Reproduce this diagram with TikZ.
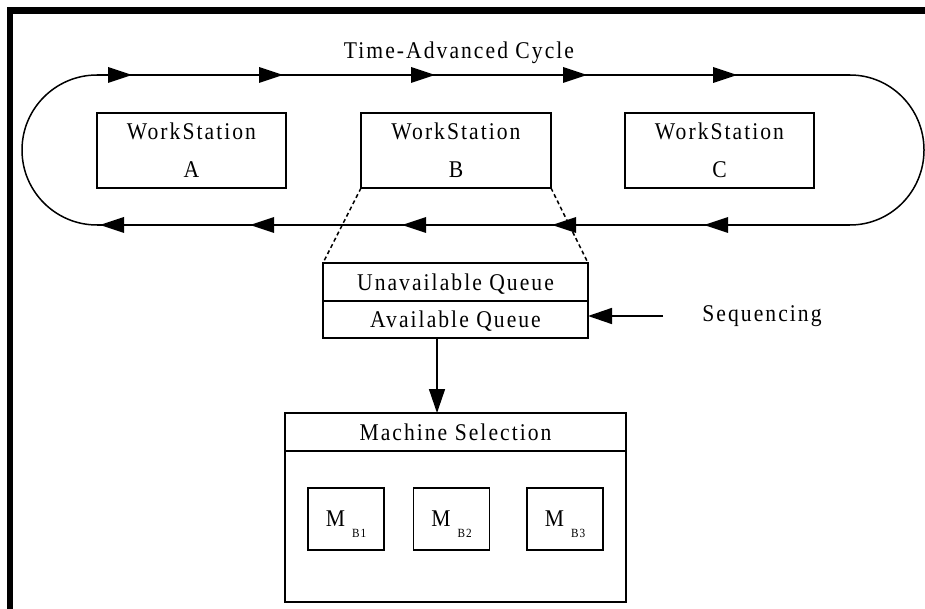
\documentclass[tikz,border=0pt]{standalone}
\usepackage{fontspec}
\setmainfont{Liberation Serif}[FakeStretch=0.9,LetterSpace=8.5]
\usetikzlibrary{arrows.meta,decorations.markings}

% filled arrowhead used on the cycle lines, tip at the mark
\newcommand\cycletip{\fill (0pt,0pt) -- (-24pt,8pt) -- (-24pt,-8pt) -- cycle;}

\begin{document}
\begin{tikzpicture}[x=1pt,y=-1pt,line width=1.5pt,
  every node/.style={font=\fontsize{24}{38}\selectfont,inner sep=0pt,outer sep=0pt},
  oneline/.style={text height=16.5pt,text depth=0pt},
  wsbox/.style={draw,minimum width=190pt,minimum height=75pt,align=center},
  qbox/.style={draw,oneline,minimum width=265pt,minimum height=#1},
  msbox/.style={draw,oneline,minimum width=341pt,minimum height=#1},
  mbox/.style={draw,minimum width=76pt,minimum height=62pt},
  flow/.style={-{Triangle[length=24pt,width=16pt]}},
  link/.style={dash pattern=on 4pt off 3pt},
  frame/.style={line width=6.5pt}]

\useasboundingbox (0,0) rectangle (925,609);

% heavy frame along the top and left edges
\draw[frame] (10,609) -- (10,10.5) -- (925,10.5);

% cycle corners
\coordinate (tl) at (97,75);
\coordinate (tr) at (850,75);
\coordinate (br) at (850,225);
\coordinate (bl) at (97,225);

% time-advanced cycle loop
\draw[postaction={decorate},decoration={markings,
    mark=at position 35pt with {\cycletip},
    mark=at position 186pt with {\cycletip},
    mark=at position 338pt with {\cycletip},
    mark=at position 490pt with {\cycletip},
    mark=at position 640pt with {\cycletip}}]
  (tl) -- (tr);
\draw (tr) arc[start angle=90,end angle=-90,x radius=74pt,y radius=75pt];
\draw[postaction={decorate},decoration={markings,
    mark=at position 146pt with {\cycletip},
    mark=at position 298pt with {\cycletip},
    mark=at position 448pt with {\cycletip},
    mark=at position 600pt with {\cycletip},
    mark=at position 750pt with {\cycletip}}]
  (br) -- (bl);
\draw (bl) arc[start angle=-90,end angle=-270,x radius=75pt,y radius=75pt];

\node[oneline] (title) at (459,50) {Time-Advanced Cycle};

% workstations
\node[wsbox,minimum width=189pt] (wsA) at (191.5,150.5) {WorkStation\\A};
\node[wsbox] (wsB) at (456,150.5) {WorkStation\\B};
\node[wsbox,minimum width=189pt] (wsC) at (719.5,150.5) {WorkStation\\C};

% queues of workstation B
\node[qbox=38pt] (uq) at (455.5,282) {Unavailable Queue};
\node[qbox=37pt] (aq) at (455.5,319.5) {Available Queue};

\draw[link] (wsB.south west) -- (uq.north west);
\draw[link] (wsB.south east) -- (uq.north east);

% sequencing input
\node[oneline] (seq) at (762,313) {Sequencing};
\coordinate (seqtail) at (663,316);
\draw[flow] (seqtail) -- (seqtail -| aq.east);

% machine selection
\node[msbox=38pt] (ms) at (455.5,432) {Machine Selection};
\node[msbox=151pt] (msb) at (455.5,526.5) {};

\coordinate (drop) at (437,338);
\draw[flow] (aq.south -| drop) -- (ms.north -| drop);

\node[mbox] (mb1) at (346,519) {M\hspace{7pt}\smash{\raisebox{-11pt}{\fontsize{12.5}{13}\selectfont B1}}};
\node[mbox] (mb2) at (451.5,519) {M\hspace{7pt}\smash{\raisebox{-11pt}{\fontsize{12.5}{13}\selectfont B2}}};
\node[mbox] (mb3) at (565,519) {M\hspace{7pt}\smash{\raisebox{-11pt}{\fontsize{12.5}{13}\selectfont B3}}};

\end{tikzpicture}
\end{document}
